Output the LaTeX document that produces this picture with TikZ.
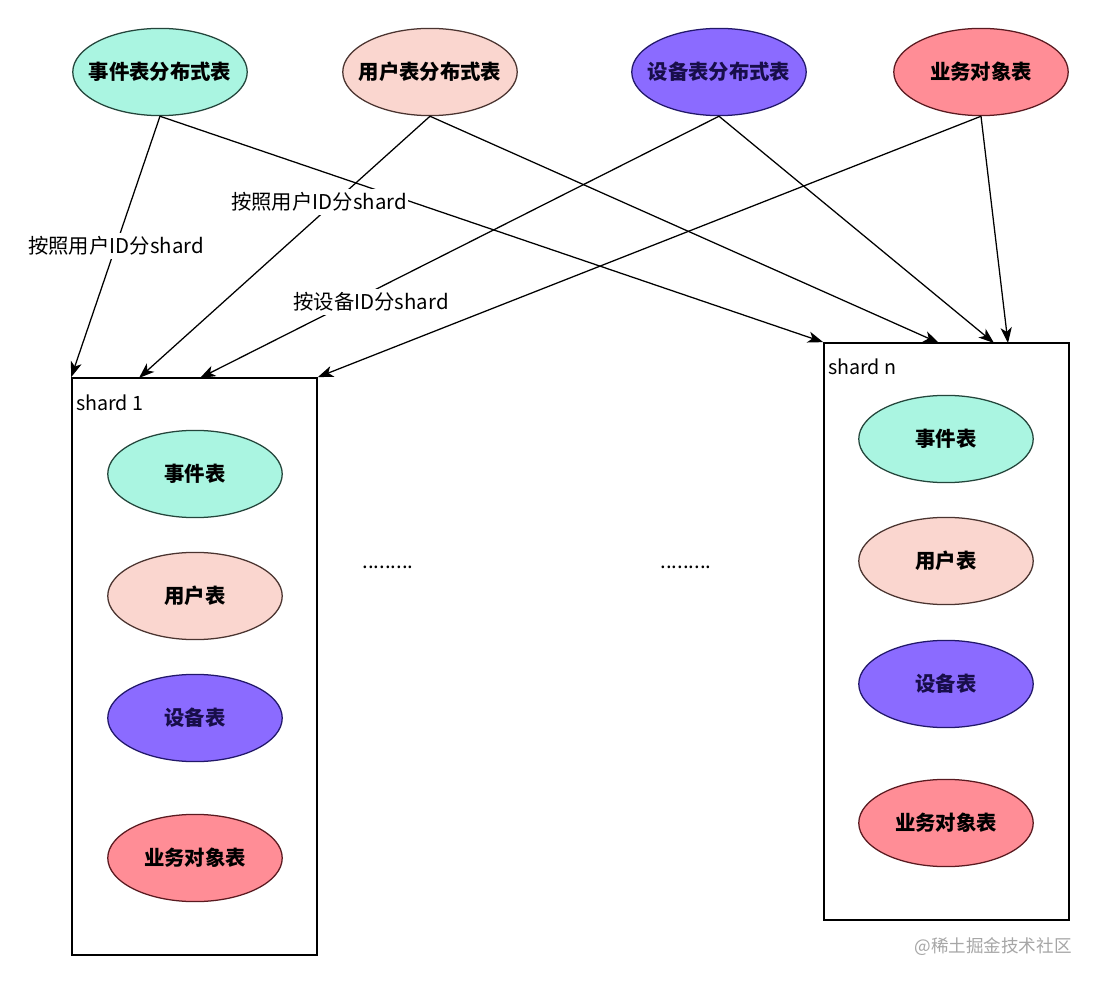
\documentclass[tikz,border=0pt]{standalone}
\usepackage{fontspec}
\setmainfont{Noto Sans CJK SC}
\usetikzlibrary{shapes.geometric,arrows.meta}

\definecolor{evtfill}{HTML}{AAF5E1}
\definecolor{evtline}{HTML}{24453B}
\definecolor{usrfill}{HTML}{FAD6CF}
\definecolor{usrline}{HTML}{4A3430}
\definecolor{devfill}{HTML}{8B6BFF}
\definecolor{devline}{HTML}{22186A}
\definecolor{devtext}{HTML}{180E4A}
\definecolor{bizfill}{HTML}{FF8D96}
\definecolor{bizline}{HTML}{5A1A20}

% text of a table ellipse, kept out of the ellipse's own size
\newcommand{\tbltext}[1]{\makebox[0pt]{#1}}

\begin{document}
\begin{tikzpicture}[x=0.025cm, y=-0.025cm, >={Stealth[length=11pt,width=8pt,inset=3pt]},
	tbl/.style={ellipse, inner sep=0pt, line width=0.9pt, minimum width=4.36cm, minimum height=2.18cm, font=\fontsize{14.5}{17}\selectfont\bfseries},
	evt/.style={tbl, fill=evtfill, draw=evtline},
	usr/.style={tbl, fill=usrfill, draw=usrline},
	dev/.style={tbl, fill=devfill, draw=devline, text=devtext},
	biz/.style={tbl, fill=bizfill, draw=bizline},
	shardbox/.style={rectangle, draw=black, line width=1.1pt, minimum width=6.125cm, minimum height=14.425cm},
	lbl/.style={fill=white, inner xsep=1pt, inner ysep=2.5pt, font=\fontsize{14.5}{17}\selectfont},
	link/.style={->, line width=0.9pt}]
	\fill[white] (0,0) rectangle (1100,984);
	\useasboundingbox (0,0) rectangle (1100,984);
	% distributed tables
	\node [evt] (tevt) at (160,72) {\tbltext{事件表分布式表}};
	\node [usr] (tusr) at (430,72) {\tbltext{用户表分布式表}};
	\node [dev] (tdev) at (719,72) {\tbltext{设备表分布式表}};
	\node [biz] (tbiz) at (981,72) {\tbltext{业务对象表}};
	% shards
	\node [shardbox] (s1) at (194.5,666.5) {};
	\node [shardbox] (sn) at (946.5,631.5) {};
	\node [anchor=west, inner sep=0pt, font=\fontsize{14}{17}\selectfont] (s1name) at (76,403) {shard 1};
	\node [anchor=west, inner sep=0pt, font=\fontsize{14}{17}\selectfont] (snname) at (828,367) {shard n};
	\node [evt] (s1evt) at (195,474) {\tbltext{事件表}};
	\node [usr] (s1usr) at (195,596) {\tbltext{用户表}};
	\node [dev] (s1dev) at (195,718) {\tbltext{设备表}};
	\node [biz] (s1biz) at (195,858) {\tbltext{业务对象表}};
	\node [evt] (snevt) at (946,439) {\tbltext{事件表}};
	\node [usr] (snusr) at (946,561) {\tbltext{用户表}};
	\node [dev] (sndev) at (946,684) {\tbltext{设备表}};
	\node [biz] (snbiz) at (946,823) {\tbltext{业务对象表}};
	\node [anchor=base, font=\fontsize{14.5}{17}\selectfont] (dots1) at (388,568) {.........};
	\node [anchor=base, font=\fontsize{14.5}{17}\selectfont] (dots2) at (686,568) {.........};
	% arrow ends on the shard tops
	\coordinate (s1u) at (139,378);
	\coordinate (s1d) at (200,378);
	\coordinate (snu) at (939,343);
	\coordinate (snd) at (994,343);
	\coordinate (snb) at (1008,343);
	\draw [link] (tevt.south) -- (s1.north west);
	\draw [link] (tevt.south) -- (sn.north west);
	\draw [link] (tusr.south) -- (s1u);
	\draw [link] (tusr.south) -- (snu);
	\draw [link] (tdev.south) -- (s1d);
	\draw [link] (tdev.south) -- (snd);
	\draw [link] (tbiz.south) -- (s1.north east);
	\draw [link] (tbiz.south) -- (snb);
	% labels on the arrows
	\node [lbl] (byusr1) at (116,246) {按照用户ID分shard};
	\node [lbl] (byusr2) at (319,202) {按照用户ID分shard};
	\node [lbl] (bydev) at (371,302) {按设备ID分shard};
	\node [font=\fontsize{12.5}{15}\selectfont, text=black!35] (wmark) at (993,947) {@稀土掘金技术社区};
\end{tikzpicture}
\end{document}
